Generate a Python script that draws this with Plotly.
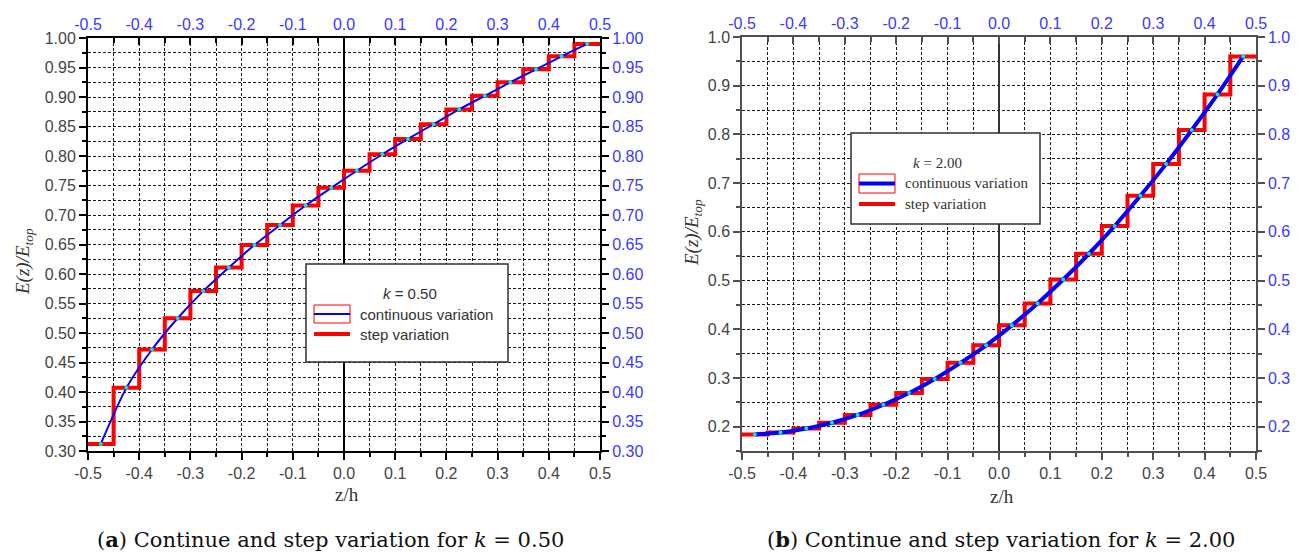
import plotly.graph_objects as go

# ---- data -------------------------------------------------------------
# layer boundaries and layer mid-planes through the thickness (z/h)
z_edges = [-0.50, -0.45, -0.40, -0.35, -0.30, -0.25, -0.20, -0.15, -0.10, -0.05,
           0.00, 0.05, 0.10, 0.15, 0.20, 0.25, 0.30, 0.35, 0.40, 0.45, 0.50]
z_mid = [-0.475, -0.425, -0.375, -0.325, -0.275, -0.225, -0.175, -0.125, -0.075, -0.025,
         0.025, 0.075, 0.125, 0.175, 0.225, 0.275, 0.325, 0.375, 0.425, 0.475]

# E(z)/E_top at each layer mid-plane
e_k050 = [0.312, 0.407, 0.472, 0.525, 0.571, 0.611, 0.649, 0.683, 0.716, 0.746,
          0.775, 0.803, 0.829, 0.854, 0.879, 0.902, 0.925, 0.947, 0.969, 0.990]
e_k200 = [0.184, 0.188, 0.196, 0.208, 0.224, 0.245, 0.269, 0.298, 0.331, 0.367,
          0.408, 0.453, 0.502, 0.555, 0.612, 0.674, 0.739, 0.809, 0.882, 0.960]

x_ticks = [-0.5, -0.4, -0.3, -0.2, -0.1, 0.0, 0.1, 0.2, 0.3, 0.4, 0.5]
x_ticktext = ["-0.5", "-0.4", "-0.3", "-0.2", "-0.1", "0.0", "0.1", "0.2", "0.3", "0.4", "0.5"]
x_minor = [-0.45, -0.35, -0.25, -0.15, -0.05, 0.05, 0.15, 0.25, 0.35, 0.45]

ya_range = [0.30, 1.00]
yb_range = [0.15, 1.00]

W, H = 1298, 553


def px(x):
    return x / W


def py(y):
    return 1 - y / H


RED = "#ff0000"
BLUE = "#0000ff"
CYAN = "#00e8e8"
LBLUE = "#3a3aff"
GRID = dict(showgrid=True, gridcolor="#1a1a1a", gridwidth=1, griddash="3px,2px")
SANS = "Liberation Sans, Arial, sans-serif"
SERIF = "Liberation Serif, Times New Roman, serif"
CAP_SERIF = "DejaVu Serif, serif"
TICK_SIZE = 16

fig = go.Figure()


def add_panel(vals, xa, ya, xa2, ya2, blue_w):
    step_y = vals + [vals[-1]]
    fig.add_trace(go.Scatter(x=z_edges, y=step_y, mode="lines", line_shape="hv",
                             line=dict(color=RED, width=4), xaxis=xa, yaxis=ya,
                             showlegend=False, hoverinfo="skip"))
    fig.add_trace(go.Scatter(x=z_mid, y=vals, mode="lines", line_shape="spline",
                             line=dict(color=BLUE, width=blue_w, smoothing=0.8),
                             xaxis=xa, yaxis=ya, showlegend=False, hoverinfo="skip"))
    fig.add_trace(go.Scatter(x=z_mid, y=vals, mode="markers",
                             marker=dict(color=CYAN, size=4, line=dict(width=0)),
                             xaxis=xa, yaxis=ya, showlegend=False, hoverinfo="skip"))
    # empty trace so the mirrored top/right axes are drawn
    fig.add_trace(go.Scatter(x=[], y=[], xaxis=xa2, yaxis=ya2, showlegend=False,
                             hoverinfo="skip"))


add_panel(e_k050, "x", "y", "x2", "y2", 2)
add_panel(e_k200, "x3", "y3", "x4", "y4", 4)


def x_bottom(dom, anchor, lc, lw, zc, zw):
    return dict(domain=dom, anchor=anchor, range=[-0.5, 0.5], side="bottom",
                automargin=False,
                tickmode="array", tickvals=x_ticks, ticktext=x_ticktext,
                ticks="outside", ticklen=7, tickwidth=2, tickcolor=lc,
                tickfont=dict(family=SANS, size=TICK_SIZE, color="#444444"),
                showline=True, linecolor=lc, linewidth=lw,
                zeroline=True, zerolinecolor=zc, zerolinewidth=zw,
                minor=dict(tickmode="array", tickvals=x_minor, ticks="outside",
                           ticklen=4, tickwidth=1.5, tickcolor=lc, **GRID),
                **GRID)


def x_top(over, anchor, lc, lw):
    return dict(overlaying=over, anchor=anchor, range=[-0.5, 0.5], side="top",
                automargin=False,
                tickmode="array", tickvals=x_ticks, ticktext=x_ticktext,
                ticks="inside", ticklen=7, tickwidth=2, tickcolor=lc,
                tickfont=dict(family=SANS, size=TICK_SIZE, color=LBLUE),
                showline=True, linecolor=lc, linewidth=lw, showgrid=False,
                zeroline=False,
                minor=dict(tickmode="array", tickvals=x_minor, ticks="inside",
                           ticklen=5, tickwidth=1.5, tickcolor=lc, showgrid=False))


def y_left(dom, anchor, rng, dtick, mdt, fmt, lc, lw):
    return dict(domain=dom, anchor=anchor, range=rng, side="left",
                automargin=False,
                tick0=0, dtick=dtick, tickformat=fmt,
                ticks="outside", ticklen=7, tickwidth=2, tickcolor=lc,
                tickfont=dict(family=SANS, size=TICK_SIZE, color="#444444"),
                showline=True, linecolor=lc, linewidth=lw, zeroline=False,
                minor=dict(tick0=0, dtick=mdt, ticks="outside", ticklen=4,
                           tickwidth=1.5, tickcolor=lc, **GRID),
                **GRID)


def y_right(over, anchor, rng, dtick, mdt, fmt, lc, lw):
    return dict(overlaying=over, anchor=anchor, range=rng, side="right",
                automargin=False,
                tick0=0, dtick=dtick, tickformat=fmt,
                ticks="outside", ticklen=7, tickwidth=2, tickcolor=lc,
                tickfont=dict(family=SANS, size=TICK_SIZE, color=LBLUE),
                showline=True, linecolor=lc, linewidth=lw, showgrid=False,
                zeroline=False,
                minor=dict(tick0=0, dtick=mdt, ticks="outside", ticklen=4,
                           tickwidth=1.5, tickcolor=lc, showgrid=False))


dom_xa = [px(88), px(600)]
dom_ya = [py(451), py(38)]
dom_xb = [px(742), px(1256)]
dom_yb = [py(451), py(37)]

fig.update_layout(
    width=W, height=H,
    margin=dict(l=0, r=0, t=0, b=0, pad=0, autoexpand=False),
    paper_bgcolor="white", plot_bgcolor="white",
    xaxis=x_bottom(dom_xa, "y", "#000000", 2, "#000000", 1.5),
    xaxis2=x_top("x", "y", "#000000", 2),
    yaxis=y_left(dom_ya, "x", ya_range, 0.05, 0.025, ".2f", "#000000", 2),
    yaxis2=y_right("y", "x", ya_range, 0.05, 0.025, ".2f", "#000000", 2),
    xaxis3=x_bottom(dom_xb, "y3", "#505050", 1.5, "#333333", 1.5),
    xaxis4=x_top("x3", "y3", "#505050", 1.5),
    yaxis3=y_left(dom_yb, "x3", yb_range, 0.1, 0.05, ".1f", "#505050", 1.5),
    yaxis4=y_right("y3", "x3", yb_range, 0.1, 0.05, ".1f", "#505050", 1.5),
)

shapes = []
annos = []


def legend_box(box, sw, title_xy, title, t_cont, t_step, font, fsize, blue_w):
    x0, y0, x1, y1 = box
    shapes.append(dict(type="rect", xref="paper", yref="paper", layer="above",
                       x0=px(x0), x1=px(x1), y0=py(y1), y1=py(y0),
                       line=dict(color="#303030", width=1.5), fillcolor="white"))
    sx0, sy0, sx1, sy1, sy_step = sw
    shapes.append(dict(type="rect", xref="paper", yref="paper", layer="above",
                       x0=px(sx0), x1=px(sx1), y0=py(sy1), y1=py(sy0),
                       line=dict(color=RED, width=1), fillcolor="rgba(0,0,0,0)"))
    ym = (sy0 + sy1) / 2
    shapes.append(dict(type="line", xref="paper", yref="paper", layer="above",
                       x0=px(sx0), x1=px(sx1), y0=py(ym), y1=py(ym),
                       line=dict(color=BLUE, width=blue_w)))
    shapes.append(dict(type="line", xref="paper", yref="paper", layer="above",
                       x0=px(sx0), x1=px(sx1), y0=py(sy_step), y1=py(sy_step),
                       line=dict(color=RED, width=4)))
    annos.append(dict(x=px(title_xy[0]), y=py(title_xy[1]), xref="paper", yref="paper",
                      text=title, showarrow=False, xanchor="center", yanchor="middle",
                      font=dict(family=font, size=fsize, color="#333333")))
    for txt, yy in ((t_cont, ym), (t_step, sy_step)):
        annos.append(dict(x=px(sx1 + 8), y=py(yy), xref="paper", yref="paper",
                          text=txt, showarrow=False, xanchor="left", yanchor="middle",
                          font=dict(family=font, size=fsize, color="#333333")))


legend_box((306, 264, 508, 362), (314, 305, 350, 323, 334), (410, 294),
           "<i>k</i> = 0.50", "continuous variation", "step variation", SANS, 15, 2)
legend_box((851, 133, 1040, 224), (859, 174, 895, 193, 204), (937, 163),
           "<i>k</i> = 2.00", "continuous variation", "step variation", SERIF, 15, 4)

# axis titles
for xx, yy in ((347, 494), (1002, 496)):
    annos.append(dict(x=px(xx), y=py(yy), xref="paper", yref="paper", text="z/h",
                      showarrow=False, xanchor="center", yanchor="middle",
                      font=dict(family=SERIF, size=19, color="#333333")))
for xx, yy in ((24, 262), (693, 233)):
    annos.append(dict(x=px(xx), y=py(yy), xref="paper", yref="paper",
                      text="<i>E(z)/E<sub>top</sub></i>", textangle=-90,
                      showarrow=False, xanchor="center", yanchor="middle",
                      font=dict(family=SERIF, size=19, color="#333333")))

# sub-figure captions
for xx, lab, kval in ((330, "a", "0.50"), (1001, "b", "2.00")):
    annos.append(dict(x=px(xx), y=py(539), xref="paper", yref="paper",
                      text=f"(<b>{lab}</b>) Continue and step variation for <i>k</i> = {kval}",
                      showarrow=False, xanchor="center", yanchor="middle",
                      font=dict(family=CAP_SERIF, size=21, color="#111111")))

fig.update_layout(shapes=shapes, annotations=annos)
fig.write_html("out.html")
